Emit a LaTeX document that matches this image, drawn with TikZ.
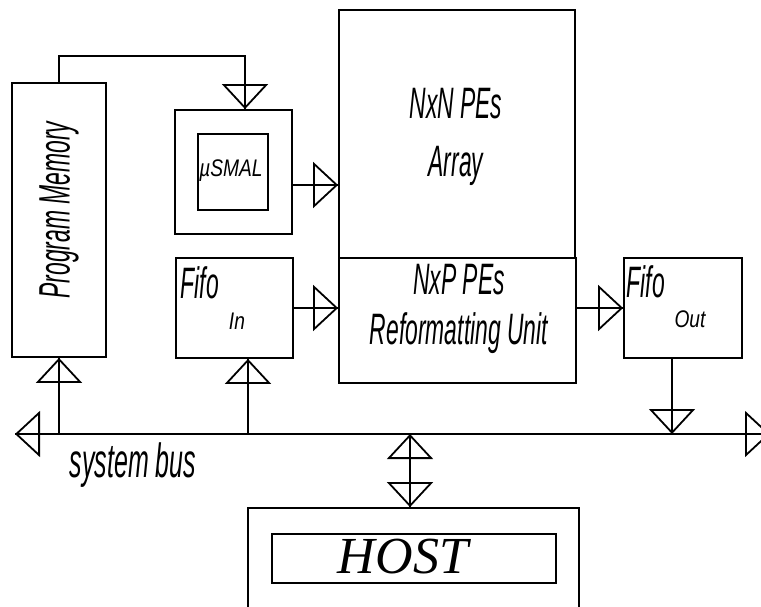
\documentclass[tikz,border=0pt]{standalone}
\usepackage{fontspec}
\newfontfamily\cadfont{Liberation Sans}[FakeStretch=0.52]
\newfontfamily\cadsmallfont{Liberation Sans}[FakeStretch=0.8]
\newfontfamily\hostfont{Liberation Serif}
\usetikzlibrary{arrows.meta}

\begin{document}
\begin{tikzpicture}[
  x=0.5pt, y=-0.5pt,
  line width=0.9pt,
  block/.style={draw, rectangle, inner sep=0pt},
  cadtext/.style={font={\cadfont\itshape\fontsize{22}{24}\selectfont}, align=center, inner sep=0pt},
  smalltext/.style={font={\cadsmallfont\itshape\fontsize{12}{14}\selectfont}, inner sep=0pt},
  feed/.style={postaction={draw, -{Triangle[open, length=12.5pt, width=23pt, line width=0.9pt]}}},
  feedboth/.style={postaction={draw, {Triangle[open, length=12.5pt, width=23pt, line width=0.9pt]}-{Triangle[open, length=12.5pt, width=23pt, line width=0.9pt]}}}
]
  \useasboundingbox (0,0) rectangle (761,606);

  % blocks
  \node[block, minimum width=47pt, minimum height=137pt] (pm) at (59,220) {};
  \node[block, minimum width=58.5pt, minimum height=62pt] (smal) at (233.5,172) {};
  \node[block, minimum width=35pt, minimum height=38pt] (smalcore) at (233,172) {};
  \node[block, minimum width=118pt, minimum height=124pt] (array) at (457,134) {};
  \node[block, minimum width=118.5pt, minimum height=62.5pt] (reform) at (457.5,320.5) {};
  \node[block, minimum width=58.5pt, minimum height=50pt] (fifoin) at (234.5,308) {};
  \node[block, minimum width=59pt, minimum height=50pt] (fifoout) at (683,308) {};
  \node[block, minimum width=165.5pt, minimum height=58pt] (host) at (413.5,566) {};
  \node[block, minimum width=142pt, minimum height=24.5pt] (hostcore) at (414,558.5) {};

  % labels
  \node[cadtext, rotate=90] (pmtext) at ([yshift=5pt]pm.center) {Program Memory};
  \node[smalltext] (smaltext) at (231,171) {µSMAL};
  \node[cadtext] (arraytext) at (456,137) {NxN PEs\\[5pt]Array};
  \node[cadtext] (reformtext) at (459,309) {NxP PEs\\[1pt]Reformatting Unit};
  \node[cadtext] (fifointext) at (200,283) {Fifo};
  \node[smalltext] (intext) at (237,321) {In};
  \node[cadtext] (fifoouttext) at (646,282) {Fifo};
  \node[smalltext] (outtext) at (690,319) {Out};
  \node[cadtext, font={\cadfont\itshape\fontsize{24}{26}\selectfont}] (bustext) at (133,465) {system bus};
  \node[font={\hostfont\itshape\fontsize{26}{30}\selectfont}, inner sep=0pt] (hosttext) at (403,557) {HOST};

  % bus
  \coordinate (busl) at (15,434);
  \coordinate (busr) at (770,434);
  \draw[feedboth] (busl) -- (busr);

  % links
  \draw[feed] (pm.north) -- ++(0,-26) -| ([xshift=5.75pt]smal.north);
  \draw[feed] ([yshift=-6.5pt]smal.east) -- ([yshift=-6.5pt]smal.east -| array.west);
  \draw[feed] (fifoin.east) -- (fifoin.east -| reform.west);
  \draw[feed] (fifoout.west -| reform.east) -- (fifoout.west);
  \draw[feed] (pm.south |- busl) -- (pm.south);
  \draw[feed] ([xshift=6.75pt]fifoin.south |- busl) -- ([xshift=6.75pt]fifoin.south);
  \draw[feed] ([xshift=-5.5pt]fifoout.south) -- ([xshift=-5.5pt]fifoout.south |- busl);
  \draw[feedboth] ([xshift=-1.75pt]host.north |- busl) -- ([xshift=-1.75pt]host.north);
\end{tikzpicture}
\end{document}
